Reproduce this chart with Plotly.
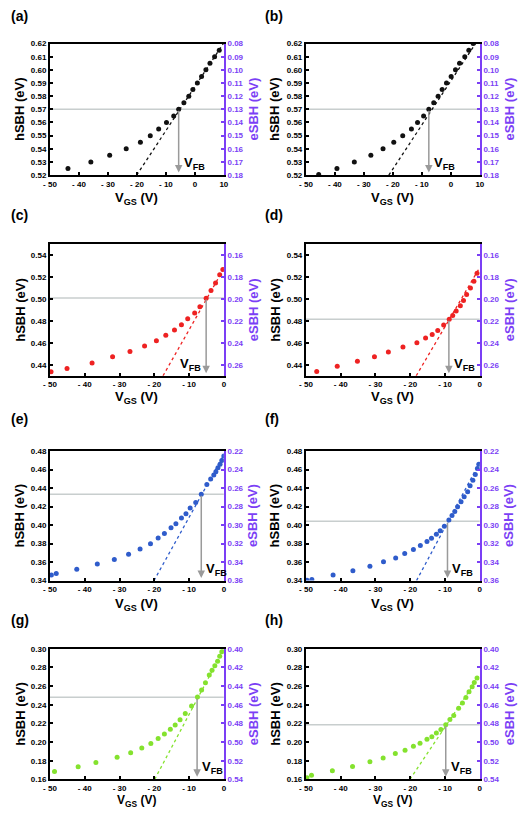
import plotly.graph_objects as go

# ---------------- data ----------------
panel_labels = ["(a)", "(b)", "(c)", "(d)", "(e)", "(f)", "(g)", "(h)"]

vgs_a = [-43.8, -35.9, -29.4, -23.7, -18.8, -15.4, -12.5, -9.8, -7.3, -5.6, -3.8, -2.1, -0.7, 0.85, 2.3, 3.8, 5.2, 6.8, 8.4]
hsbh_a = [0.525, 0.530, 0.535, 0.540, 0.545, 0.550, 0.555, 0.560, 0.565, 0.570, 0.575, 0.580, 0.585, 0.590, 0.595, 0.600, 0.605, 0.610, 0.615]

vgs_b = [-45.6, -39.3, -33.3, -27.6, -23.4, -19.7, -16.6, -13.6, -11.5, -9.4, -7.6, -5.9, -4.4, -3.0, -1.5, 0.1, 1.6, 3.0, 4.8, 6.2, 7.7]
hsbh_b = [0.5205, 0.525, 0.530, 0.535, 0.540, 0.545, 0.550, 0.555, 0.560, 0.565, 0.570, 0.575, 0.580, 0.585, 0.590, 0.595, 0.600, 0.605, 0.610, 0.615, 0.620]

vgs_c = [-49.7, -45.1, -37.9, -32.0, -27.0, -22.8, -19.4, -16.7, -14.2, -12.2, -10.4, -8.4, -6.9, -5.1, -3.7, -2.4, -1.2, -0.3]
hsbh_c = [0.4337, 0.4367, 0.4418, 0.4475, 0.4523, 0.4572, 0.4620, 0.4670, 0.4719, 0.4767, 0.4822, 0.4873, 0.4930, 0.5008, 0.5078, 0.5147, 0.5223, 0.5271]

vgs_d = [-46.9, -41.0, -35.2, -30.3, -26.3, -22.1, -18.1, -15.6, -13.7, -12.1, -10.4, -8.8, -7.8, -6.8, -5.6, -4.7, -3.8, -2.7, -1.7, -0.8]
hsbh_d = [0.4340, 0.4388, 0.4433, 0.4475, 0.4518, 0.4563, 0.4602, 0.4645, 0.4678, 0.4714, 0.4765, 0.4816, 0.4850, 0.4892, 0.4940, 0.4988, 0.5042, 0.5102, 0.5163, 0.5235]

vgs_e = [-49.6, -48.2, -42.3, -36.4, -31.5, -27.4, -24.1, -21.1, -18.9, -17.1, -15.2, -13.8, -12.2, -10.9, -9.7, -8.1, -6.5, -4.9, -3.8, -2.9, -2.3, -1.7, -1.1, -0.6, 0.0]
hsbh_e = [0.3461, 0.3475, 0.3521, 0.3578, 0.3628, 0.3685, 0.3742, 0.3799, 0.3860, 0.3909, 0.3970, 0.4013, 0.4077, 0.4123, 0.4184, 0.4244, 0.4333, 0.4437, 0.4497, 0.4540, 0.4576, 0.4618, 0.4658, 0.4697, 0.4747]

vgs_f = [-49.7, -48.3, -42.2, -36.5, -31.6, -27.7, -24.2, -21.6, -19.1, -17.1, -15.2, -13.9, -12.5, -11.4, -10.2, -8.9, -8.0, -7.2, -6.4, -5.4, -4.5, -3.5, -2.8, -2.0, -1.3, -0.7, -0.3]
hsbh_f = [0.3404, 0.3411, 0.3461, 0.3507, 0.3554, 0.3604, 0.3643, 0.3693, 0.3737, 0.3780, 0.3823, 0.3858, 0.3901, 0.3937, 0.3987, 0.4055, 0.4102, 0.4145, 0.4198, 0.4252, 0.4306, 0.4360, 0.4424, 0.4485, 0.4546, 0.4610, 0.4657]

vgs_g = [-48.7, -41.9, -36.8, -30.7, -26.8, -23.6, -21.0, -18.9, -17.1, -15.4, -14.0, -12.6, -11.1, -9.3, -7.6, -6.4, -5.3, -4.2, -3.4, -2.6, -1.8, -1.2, -0.6]
hsbh_g = [0.1685, 0.1734, 0.1780, 0.1836, 0.1886, 0.1935, 0.1984, 0.2037, 0.2087, 0.2136, 0.2182, 0.2238, 0.2305, 0.2386, 0.2482, 0.2559, 0.2637, 0.2718, 0.2771, 0.2817, 0.2866, 0.2919, 0.2968]

vgs_h = [-49.7, -48.4, -42.4, -36.6, -31.6, -27.8, -24.3, -21.5, -19.1, -17.2, -15.2, -13.8, -12.5, -11.2, -9.8, -8.6, -7.5, -6.1, -5.0, -4.0, -3.1, -2.2, -1.6, -0.8]
hsbh_h = [0.1618, 0.1643, 0.1692, 0.1738, 0.1788, 0.1830, 0.1877, 0.1912, 0.1954, 0.1986, 0.2029, 0.2057, 0.2096, 0.2135, 0.2185, 0.2242, 0.2284, 0.2362, 0.2419, 0.2479, 0.2539, 0.2592, 0.2638, 0.2688]

# linear fits (two end points each)
fit_x = [[-20.1, 9.8], [-21.4, 8.5], [-17.5, 0.0], [-18.3, 0.0], [-20.1, 0.0], [-18.2, 0.0], [-19.9, 0.0], [-20.1, 0.0]]
fit_y = [[0.52, 0.62], [0.52, 0.62], [0.43, 0.528], [0.43, 0.529], [0.34, 0.476], [0.34, 0.468], [0.16, 0.30], [0.16, 0.2717]]

# flat-band points
vfb_x = [-5.6, -7.6, -5.1, -8.9, -6.5, -9.3, -7.7, -9.8]
vfb_h = [0.570, 0.570, 0.501, 0.4816, 0.4333, 0.4041, 0.248, 0.2185]

# eSBH = Eg - hSBH
band_gap = 0.70

# axis ranges / ticks
x_ranges = [[-50, 10], [-50, 10], [-50, 0], [-50, 0], [-50, 0], [-50, 0], [-50, 0], [-50, 0]]
y_ranges = [[0.52, 0.62], [0.52, 0.62], [0.43, 0.55], [0.43, 0.55], [0.34, 0.48], [0.34, 0.48], [0.16, 0.30], [0.16, 0.30]]
y_tick0 = [0.52, 0.52, 0.44, 0.44, 0.34, 0.34, 0.16, 0.16]
y_tick_last = [0.62, 0.62, 0.54, 0.54, 0.48, 0.48, 0.30, 0.30]
y_dticks = [0.01, 0.01, 0.02, 0.02, 0.02, 0.02, 0.02, 0.02]
x_tickvals = [-50, -40, -30, -20, -10, 0, 10]
x_ticktext = ["- 50", "- 40", "- 30", "- 20", "- 10", "0", "10"]

colors = ["#111111", "#111111", "#EE2222", "#EE2222", "#2F5CCB", "#2F5CCB", "#84E22E", "#84E22E"]
vfb_side = ["right", "right", "left", "right", "right", "right", "right", "right"]

series_x = [vgs_a, vgs_b, vgs_c, vgs_d, vgs_e, vgs_f, vgs_g, vgs_h]
series_y = [hsbh_a, hsbh_b, hsbh_c, hsbh_d, hsbh_e, hsbh_f, hsbh_g, hsbh_h]

# ---------------- layout geometry (pixels) ----------------
W, H = 520, 816
PURPLE = "#7B3FF5"
FONT = "Liberation Sans, Arial, sans-serif"
col_x = [(44, 222), (306, 484)]
row_y = [(40, 173), (243, 376), (452, 583), (652, 784)]
label_y = [12, 213, 420, 623]
xtitle_y = [197, 398, 607, 806]
xtitle_size = [13, 13, 13, 12]


def fx(px):
    return px / W


def fy(py):
    return 1 - py / H


fig = go.Figure()
annotations = []
shapes = []
layout = {}

for i in range(8):
    r, c = divmod(i, 2)
    n = i + 1
    nr = i + 9
    x0p, x1p = col_x[c]
    y0p, y1p = row_y[r]
    xa = "x" if n == 1 else f"x{n}"
    ya = "y" if n == 1 else f"y{n}"
    yr = f"y{nr}"
    col = colors[i]
    ymin, ymax = y_ranges[i]
    xmin, xmax = x_ranges[i]

    tv = [v for v in x_tickvals if xmin <= v <= xmax]
    tt = [x_ticktext[x_tickvals.index(v)] for v in tv]

    layout[f"xaxis{n}"] = dict(
        domain=[fx(x0p), fx(x1p)], anchor=ya, range=[xmin, xmax],
        tickvals=tv, ticktext=tt, ticks="inside", ticklen=3, tickwidth=1.5,
        tickcolor="black", showline=True, linecolor="black", linewidth=2,
        mirror=True, showgrid=False, zeroline=False,
        tickfont=dict(family=FONT, size=8, color="black", weight="bold"),
    )
    nsteps = int(round((y_tick_last[i] - y_tick0[i]) / y_dticks[i]))
    yt = [round(y_tick0[i] + k * y_dticks[i], 4) for k in range(nsteps + 1)]
    layout[f"yaxis{n}"] = dict(
        domain=[fy(y1p), fy(y0p)], anchor=xa, range=[ymin, ymax],
        tickvals=yt, ticktext=[f"{t:.2f}" for t in yt],
        ticks="inside", ticklen=3, tickwidth=1.5, tickcolor="black",
        showline=True, linecolor="black", linewidth=2, showgrid=False,
        zeroline=False,
        tickfont=dict(family=FONT, size=8, color="black", weight="bold"),
    )
    rt = [round(band_gap - t, 2) for t in yt]
    layout[f"yaxis{nr}"] = dict(
        overlaying=ya, anchor=xa, side="right",
        range=[round(band_gap - ymin, 3), round(band_gap - ymax, 3)],
        tickvals=rt, ticktext=[f"{t:.2f}" for t in rt],
        ticks="inside", ticklen=3, tickwidth=1.5, tickcolor=PURPLE,
        showline=True, linecolor=PURPLE, linewidth=2, showgrid=False,
        zeroline=False,
        tickfont=dict(family=FONT, size=8, color=PURPLE, weight="bold"),
    )

    # grey horizontal guide
    shapes.append(dict(type="line", xref=xa, yref=ya, x0=xmin, x1=xmax,
                       y0=vfb_h[i], y1=vfb_h[i],
                       line=dict(color="#C8CECE", width=1.5), layer="below"))
    # fit line
    fig.add_trace(go.Scatter(x=fit_x[i], y=fit_y[i], mode="lines",
                             line=dict(color=col, width=1.3, dash="dot"),
                             xaxis=xa, yaxis=ya, showlegend=False, hoverinfo="skip"))
    # data
    fig.add_trace(go.Scatter(x=series_x[i], y=series_y[i], mode="markers",
                             marker=dict(color=col, size=5),
                             xaxis=xa, yaxis=ya, showlegend=False))
    # invisible trace for right axis
    fig.add_trace(go.Scatter(x=series_x[i], y=[band_gap - h for h in series_y[i]],
                             mode="markers", marker=dict(opacity=0),
                             xaxis=xa, yaxis=yr, showlegend=False, hoverinfo="skip"))

    # vertical arrow to V_FB
    span = ymax - ymin
    annotations.append(dict(x=vfb_x[i], y=ymin + 0.02 * span, xref=xa, yref=ya,
                            ax=vfb_x[i], ay=vfb_h[i], axref=xa, ayref=ya,
                            text="", showarrow=True, arrowhead=2, arrowsize=1,
                            arrowwidth=1.5, arrowcolor="#9A9A9A"))
    side = vfb_side[i]
    annotations.append(dict(x=vfb_x[i], y=ymin, xref=xa, yref=ya,
                            text="V<sub>FB</sub>", showarrow=False,
                            xanchor="left" if side == "right" else "right",
                            yanchor="bottom",
                            xshift=3 if side == "right" else -3, yshift=1,
                            font=dict(family=FONT, size=13, color="black", weight="bold")))

    # panel label
    annotations.append(dict(x=fx(2 + c * 260), y=fy(label_y[r]), xref="paper", yref="paper",
                            text=panel_labels[i], showarrow=False, xanchor="left",
                            yanchor="middle",
                            font=dict(family=FONT, size=14, color="black", weight="bold")))
    # axis titles
    annotations.append(dict(x=fx((x0p + x1p) / 2), y=fy(xtitle_y[r]), xref="paper", yref="paper",
                            text="V<sub>GS</sub> (V)", showarrow=False,
                            xanchor="center", yanchor="middle",
                            font=dict(family=FONT, size=xtitle_size[r], color="black", weight="bold")))
    annotations.append(dict(x=fx(13 + c * 261), y=fy((y0p + y1p) / 2), xref="paper", yref="paper",
                            text="hSBH (eV)", showarrow=False, textangle=-90,
                            xanchor="center", yanchor="middle",
                            font=dict(family=FONT, size=13, color="black", weight="bold")))
    annotations.append(dict(x=fx(x1p + 30), y=fy((y0p + y1p) / 2), xref="paper", yref="paper",
                            text="eSBH (eV)", showarrow=False, textangle=-90,
                            xanchor="center", yanchor="middle",
                            font=dict(family=FONT, size=13, color=PURPLE, weight="bold")))

fig.update_layout(
    width=W, height=H, margin=dict(l=0, r=0, t=0, b=0),
    paper_bgcolor="white", plot_bgcolor="white",
    annotations=annotations, shapes=shapes, showlegend=False,
    **layout,
)

fig.write_html("out.html", config={"displayModeBar": False},
               post_script="document.body.style.margin='0px';document.body.style.overflow='hidden';")
